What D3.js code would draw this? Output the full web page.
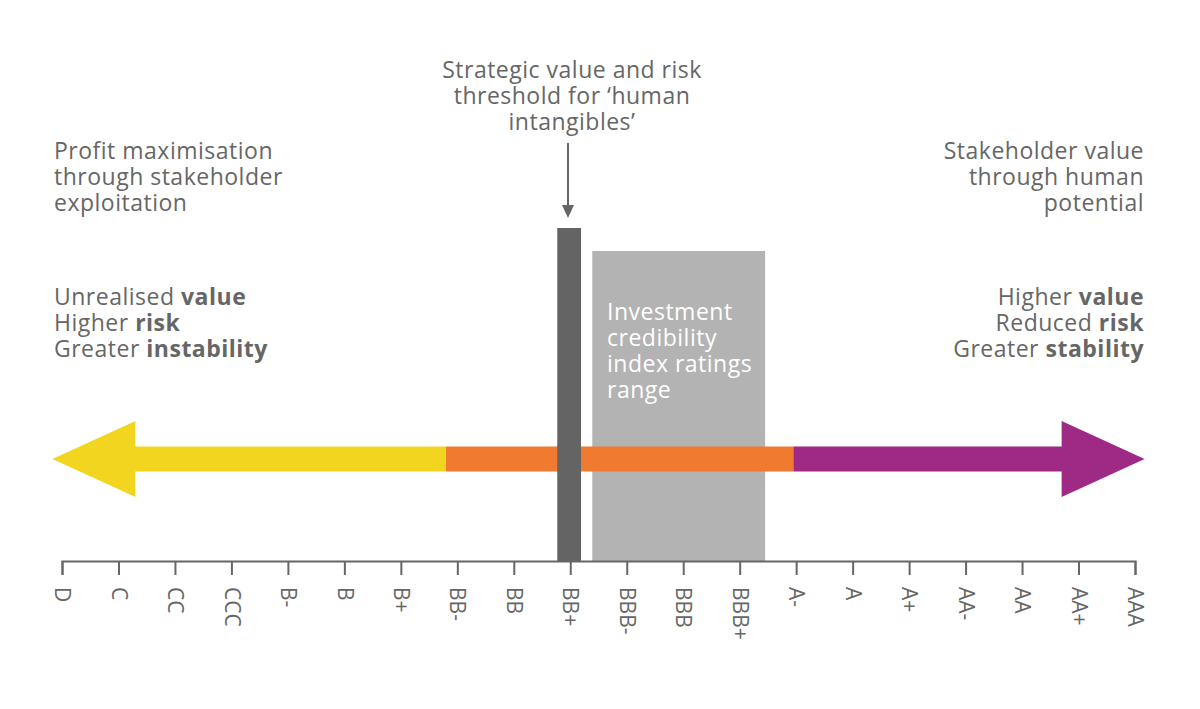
<!DOCTYPE html>
<html><head><meta charset="utf-8">
<script src="https://cdn.jsdelivr.net/npm/d3@7/dist/d3.min.js"></script>
<style>body{margin:0;background:#fff}text{font-family:"Open Sans",sans-serif}</style>
</head><body>
<svg id="c" width="1200" height="709"></svg>
<script>
var ratings = ['D','C','CC','CCC','B-','B','B+','BB-','BB','BB+','BBB-','BBB','BBB+','A-','A','A+','AA-','AA','AA+','AAA'];
// segments of the arrow along rating index
var segments = [
  {from: -0.17, to: 6.8, color: '#f2d51f'},
  {from: 6.8, to: 12.95, color: '#ef7a30'},
  {from: 12.95, to: 19.17, color: '#9e2a86'}
];
var threshold = {from: 8.77, to: 9.19, top: 228};
var range = {from: 9.39, to: 12.45, top: 251};

var svg = d3.select('#c');
var grey = '#666';
var x = d3.scaleLinear().domain([0, ratings.length - 1]).range([62, 1135]);
var axisY = 561;

/********************************************************************************/
// Bars

svg.append('rect').attr('x', x(range.from)).attr('y', range.top)
  .attr('width', x(range.to) - x(range.from)).attr('height', axisY - range.top).attr('fill', '#b3b3b3');
svg.append('rect').attr('x', x(threshold.from)).attr('y', threshold.top)
  .attr('width', x(threshold.to) - x(threshold.from)).attr('height', axisY - threshold.top).attr('fill', '#646464');

/********************************************************************************/
// Arrow

var cy = 459, half = 12.5, headW = 83, headH = 38;
var l = x(segments[0].from), r = x(segments[2].to);
segments.forEach(function(s, i){
  var a = i == 0 ? l + headW - 1 : x(s.from);
  var b = i == 2 ? r - headW + 1 : x(s.to);
  svg.append('rect').attr('x', a).attr('y', cy - half)
    .attr('width', b - a).attr('height', half * 2).attr('fill', s.color);
});
svg.append('path').attr('fill', segments[0].color)
  .attr('d', 'M'+l+','+cy+'L'+(l+headW)+','+(cy-headH)+'L'+(l+headW)+','+(cy+headH)+'Z');
svg.append('path').attr('fill', segments[2].color)
  .attr('d', 'M'+r+','+cy+'L'+(r-headW)+','+(cy-headH)+'L'+(r-headW)+','+(cy+headH)+'Z');
// redraw the threshold bar over the arrow
svg.append('rect').attr('x', x(threshold.from)).attr('y', cy - half - 1)
  .attr('width', x(threshold.to) - x(threshold.from)).attr('height', half * 2 + 2).attr('fill', '#646464');

/********************************************************************************/
// Axis

var axis = d3.axisBottom(x).tickValues(d3.range(ratings.length)).tickSize(14).tickFormat(function(i){ return ratings[i]; });
var g = svg.append('g').attr('transform', 'translate(0,' + axisY + ')').call(axis);
g.select('.domain').attr('stroke', grey).attr('stroke-width', 2);
g.selectAll('.tick line').attr('stroke', grey).attr('stroke-width', 2);
g.selectAll('.tick text').attr('fill', grey).attr('font-size', 21).attr('text-anchor', 'start')
  .attr('dy', '0.35em').attr('transform', 'translate(0,26) rotate(90)').attr('y', 0).attr('x', 0);

/********************************************************************************/
// Texts

function block(lines, tx, ty, anchor, color, size){
  var t = svg.append('text').attr('x', tx).attr('y', ty).attr('text-anchor', anchor)
    .attr('fill', color || grey).attr('font-size', size || 23).attr('letter-spacing', 0.5);
  lines.forEach(function(ln, i){
    var ts = t.append('tspan').attr('x', tx).attr('dy', i ? 26 : 0);
    ln.forEach(function(p){ ts.append('tspan').text(p[0]).attr('font-weight', p[1] ? 700 : 400); });
  });
}
block([[['Strategic value and risk']],[['threshold for \u2018human']],[['intangibles\u2019']]], 572, 78, 'middle');
block([[['Profit maximisation']],[['through stakeholder']],[['exploitation']]], 54, 159, 'start');
block([[['Stakeholder value']],[['through human']],[['potential']]], 1144, 159, 'end');
block([[['Unrealised '],['value',1]],[['Higher '],['risk',1]],[['Greater '],['instability',1]]], 54, 305, 'start');
block([[['Higher '],['value',1]],[['Reduced '],['risk',1]],[['Greater '],['stability',1]]], 1144, 305, 'end');
block([[['Investment']],[['credibility']],[['index ratings']],[['range']]], 607, 320, 'start', '#fff');

svg.append('line').attr('x1', 568).attr('x2', 568).attr('y1', 143).attr('y2', 212).attr('stroke', grey).attr('stroke-width', 2);
svg.append('path').attr('d', 'M562,205L568,218L574,205Z').attr('fill', grey);
</script>
</body></html>
